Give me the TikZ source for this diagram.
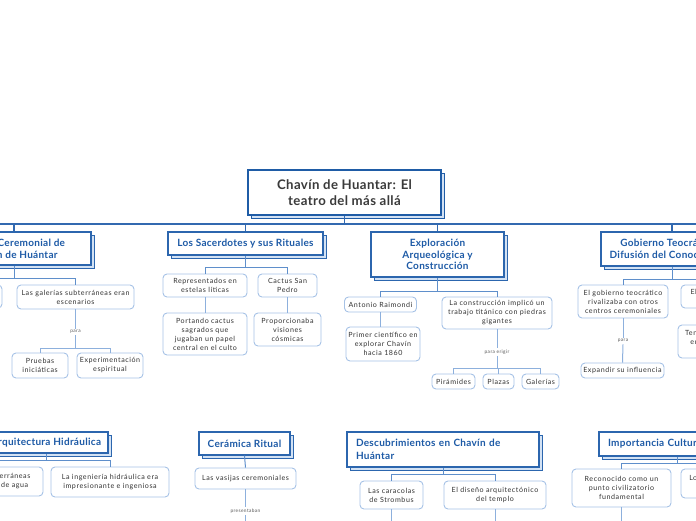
\documentclass[tikz,border=0pt]{standalone}
\usepackage{fontspec}
\setmainfont{Lato}
\newfontfamily\subfont[LetterSpace=8]{Lato}
\newfontfamily\titlefont[LetterSpace=3]{Lato}
\usetikzlibrary{shadows}
\definecolor{rootblue}{HTML}{1F5CA6}
\definecolor{topicblue}{HTML}{2C66AE}
\definecolor{titleblue}{HTML}{1D5AA6}
\definecolor{shadowfill}{HTML}{D3E2F4}
\definecolor{roottext}{HTML}{3A3A3A}
\definecolor{subborder}{HTML}{A6C2E6}
\definecolor{subtext}{HTML}{333333}
\definecolor{lbltext}{HTML}{555555}
\definecolor{mainline}{HTML}{3269B0}
\definecolor{linkblue}{HTML}{5F8FCB}
\definecolor{sublinkblue}{HTML}{8DB0DD}
\begin{document}
\begin{tikzpicture}[x=1pt,y=-1pt,
  rootbox/.style={draw=rootblue, line width=1.4pt, fill=white, text=roottext,
    font=\titlefont\fontsize{13.2}{16}\selectfont\bfseries, align=center, inner sep=0pt,
    copy shadow={shadow xshift=3pt, shadow yshift=-3pt, fill=shadowfill, draw=rootblue, line width=1pt}},
  topicbox/.style={draw=topicblue, line width=1.3pt, fill=white, text=titleblue,
    font=\titlefont\fontsize{10}{11.7}\selectfont\bfseries, align=center, inner sep=0pt,
    copy shadow={shadow xshift=3pt, shadow yshift=-3pt, fill=shadowfill, draw=topicblue, line width=1pt}},
  subbox/.style={draw=subborder, line width=0.9pt, rounded corners=4pt, fill=white, text=subtext,
    font=\subfont\fontsize{7.1}{9}\selectfont, align=center, inner sep=0pt},
  lbl/.style={fill=white, text=lbltext, font=\subfont\fontsize{4.8}{5}\selectfont, inner sep=1.5pt},
  mainln/.style={draw=mainline, line width=1.2pt},
  linkln/.style={draw=linkblue, line width=1pt},
  subln/.style={draw=sublinkblue, line width=1pt}
]
\useasboundingbox (0,0) rectangle (696,520);
\clip (0,0) rectangle (696,520);

% ---------- root ----------
\node[rootbox, minimum width=193pt, minimum height=45pt] (root) at (344.5,192.5) {Chavín de Huantar: El\\teatro del más allá};

% ---------- row 1 topics ----------
\node[topicbox, minimum width=154pt, minimum height=33pt] (T1) at (14,248.5) {Centro Ceremonial de\\Chavín de Huántar};
\node[topicbox, minimum width=155pt, minimum height=23pt] (T2) at (245.5,243.5) {Los Sacerdotes y sus Rituales};
\node[topicbox, minimum width=133pt, minimum height=45pt] (T3) at (437.5,254.5) {Exploración\\Arqueológica y\\Construcción};
\node[topicbox, minimum width=142pt, minimum height=34pt] (T4) at (672,249) {Gobierno Teocrático y\\Difusión del Conocimiento};

% ---------- row 2 topics ----------
\node[topicbox, minimum width=124pt, minimum height=21pt] (T5) at (46,442.5) {Arquitectura Hidráulica};
\node[topicbox, minimum width=91pt, minimum height=23pt] (T6) at (244.5,443.5) {Cerámica Ritual};
\node[topicbox, minimum width=192pt, minimum height=35pt, align=left, text width=174pt,
  font=\titlefont\fontsize{10}{12.5}\selectfont\bfseries] (T7) at (443,449.5) {Descubrimientos en Chavín de\\Huántar};
\node[topicbox, minimum width=156pt, minimum height=24pt, align=left, text width=138pt] (T8) at (677,444) {Importancia Cultural};

% ---------- children of T1 ----------
\node[subbox, minimum width=84pt, minimum height=23pt] (c1a) at (-40,296.5) {El templo\\principal};
\node[subbox, minimum width=117pt, minimum height=24pt] (c1b) at (75.5,297) {Las galerías subterráneas eran\\escenarios};
\node[lbl] (l1) at (75.5,332) {para};
\node[subbox, minimum width=56pt, minimum height=25pt] (c1c) at (40,365.5) {Pruebas\\iniciáticas};
\node[subbox, minimum width=66pt, minimum height=25pt] (c1d) at (110,365.5) {Experimentación\\espiritual};

% ---------- children of T2 ----------
\node[subbox, minimum width=84pt, minimum height=23pt] (c2a) at (205,285.5) {Representados en\\estelas líticas};
\node[subbox, minimum width=59pt, minimum height=23pt] (c2b) at (287.5,285.5) {Cactus San\\Pedro};
\node[subbox, minimum width=84pt, minimum height=42pt] (c2c) at (205,334) {Portando cactus\\sagrados que\\jugaban un papel\\central en el culto};
\node[subbox, minimum width=67pt, minimum height=33pt] (c2d) at (287.5,329.5) {Proporcionaba\\visiones\\cósmicas};

% ---------- children of T3 ----------
\node[subbox, minimum width=72pt, minimum height=15pt] (c3a) at (380.5,304.5) {Antonio Raimondi};
\node[subbox, minimum width=110pt, minimum height=32pt] (c3b) at (497,313) {La construcción implicó un\\trabajo titánico con piedras\\gigantes};
\node[subbox, minimum width=74pt, minimum height=34pt] (c3c) at (383,344) {Primer científico en\\explorar Chavín\\hacia 1860};
\node[lbl] (l3) at (497,352) {para erigir};
\node[subbox, minimum width=43pt, minimum height=15pt] (c3d) at (453.5,381.5) {Pirámides};
\node[subbox, minimum width=31pt, minimum height=15pt] (c3e) at (498.5,381.5) {Plazas};
\node[subbox, minimum width=37pt, minimum height=15pt] (c3f) at (540.5,381.5) {Galerías};

% ---------- children of T4 ----------
\node[subbox, minimum width=90pt, minimum height=33pt] (c4a) at (623,301.5) {El gobierno teocrático\\rivalizaba con otros\\centros ceremoniales};
\node[subbox, minimum width=86pt, minimum height=23pt] (c4b) at (724,296.5) {El conocimiento se\\difundía};
\node[subbox, minimum width=92pt, minimum height=33pt] (c4c) at (724,341.5) {Tenían gran influencia\\en la región andina\\central};
\node[lbl] (l4) at (623,341) {para};
\node[subbox, minimum width=83pt, minimum height=15pt] (c4d) at (622.5,370.5) {Expandir su influencia};

% ---------- children of T5 ----------
\node[subbox, minimum width=103pt, minimum height=29pt] (c5a) at (-8.5,481.5) {Galerías subterráneas\\conductoras de agua};
\node[subbox, minimum width=118pt, minimum height=30pt] (c5b) at (110,482) {La ingeniería hidráulica era\\impresionante e ingeniosa};

% ---------- children of T6 ----------
\node[subbox, minimum width=101pt, minimum height=21pt] (c6a) at (245.5,478.5) {Las vasijas ceremoniales};
\node[lbl] (l6) at (245.5,511) {presentaban};
\coordinate (c6end) at (245.5,535);

% ---------- children of T7 ----------
\node[subbox, minimum width=63pt, minimum height=28pt] (c7a) at (391.5,495) {Las caracolas\\de Strombus};
\node[subbox, minimum width=102pt, minimum height=28pt] (c7b) at (495,495) {El diseño arquitectónico\\del templo};
\coordinate (c7aend) at (391.5,535);
\coordinate (c7bend) at (495,535);

% ---------- children of T8 ----------
\node[subbox, minimum width=99pt, minimum height=38pt] (c8a) at (621.5,488) {Reconocido como un\\punto civilizatorio\\fundamental};
\node[subbox, minimum width=102pt, minimum height=29pt] (c8b) at (732,483.5) {Los monolitos y relieves\\proyectan su legado};
\coordinate (c8aend) at (621.5,535);

% ---------- main bus ----------
\coordinate (busL) at (-5,224);
\coordinate (busR) at (701,224);
\draw[mainln] (busL) -- (busR);
\draw[mainln] (root.south) -- (root.south |- busL);
\foreach \t in {T1,T2,T3,T4} \draw[mainln] (\t.north) -- (\t.north |- busL);

% ---------- bus coordinates ----------
\coordinate (b1) at (0,278);
\coordinate (b1s) at (0,348);
\coordinate (b2) at (0,267);
\coordinate (b3) at (0,291);
\coordinate (b3s) at (0,368);
\coordinate (b4) at (0,279);
\coordinate (b5) at (0,460);
\coordinate (b7) at (0,474);
\coordinate (b8) at (0,463);

% T1
\draw[linkln] (T1.south) -- (T1.south |- b1);
\draw[linkln] (c1a.north) |- (b1 -| c1b.north) -- (c1b.north);
\draw[subln] (c1b.south) -- (l1.north);
\draw[subln] (l1.south) -- (l1.south |- b1s);
\draw[subln] (c1c.north) |- (b1s -| c1d.north) -- (c1d.north);

% T2
\draw[linkln] (T2.south) -- (T2.south |- b2);
\draw[linkln] (c2a.north) |- (b2 -| c2b.north) -- (c2b.north);
\draw[subln] (c2a.south) -- (c2c.north);
\draw[subln] (c2b.south) -- (c2d.north);

% T3
\draw[linkln] (T3.south) -- (T3.south |- b3);
\draw[linkln] (c3a.north) |- (b3 -| c3b.north) -- (c3b.north);
\draw[subln] (c3a.south) -- (c3a.south |- c3c.north);
\draw[subln] (c3b.south) -- (l3.north);
\draw[subln] (l3.south) -- (l3.south |- b3s);
\draw[subln] (c3d.north) |- (b3s -| c3f.north) -- (c3f.north);
\draw[subln] (c3e.north) -- (c3e.north |- b3s);

% T4
\draw[linkln] (T4.south) -- (T4.south |- b4);
\draw[linkln] (c4a.north) |- (b4 -| c4b.north) -- (c4b.north);
\draw[subln] (c4a.south) -- (l4.north);
\draw[subln] (l4.south) -- (c4d.north);
\draw[subln] (c4b.south) -- (c4c.north);

% T5
\draw[linkln] (T5.south) -- (T5.south |- b5);
\draw[linkln] (c5a.north) |- (b5 -| c5b.north) -- (c5b.north);

% T6
\draw[linkln] (T6.south) -- (c6a.north);
\draw[subln] (c6a.south) -- (l6.north);
\draw[subln] (l6.south) -- (c6end);

% T7
\draw[linkln] (T7.south) -- (T7.south |- b7);
\draw[linkln] (c7a.north) |- (b7 -| c7b.north) -- (c7b.north);
\draw[subln] (c7a.south) -- (c7aend);
\draw[subln] (c7b.south) -- (c7bend);

% T8
\draw[linkln] (T8.south) -- (T8.south |- b8);
\draw[linkln] (c8a.north) |- (b8 -| c8b.north) -- (c8b.north);
\draw[subln] (c8a.south) -- (c8aend);
\end{tikzpicture}
\end{document}
